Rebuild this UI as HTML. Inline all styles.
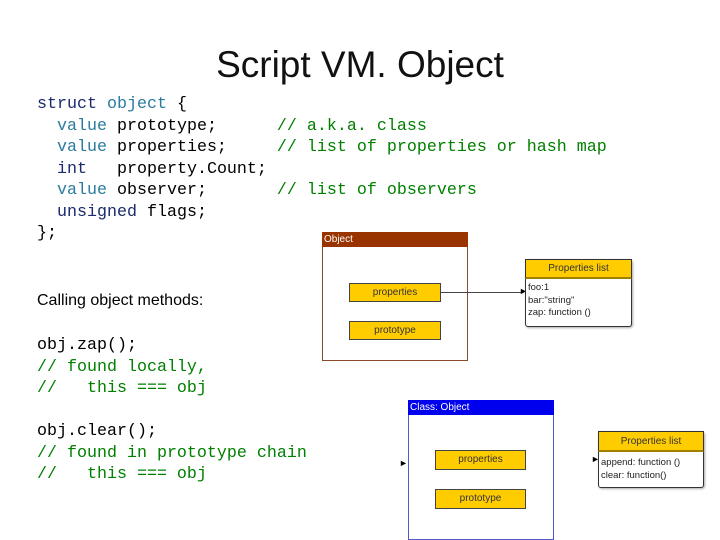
<!DOCTYPE html>
<html><head><meta charset="utf-8"><style>
body{margin:0;width:720px;height:540px;background:#fff;position:relative;overflow:hidden;font-family:"Liberation Sans",sans-serif}
.t{position:absolute;white-space:pre}
.code{font-family:"Liberation Mono",monospace;font-size:16.67px;line-height:21.5px}
.k{color:#1a2a6c}.ty{color:#2b7b9f}.c{color:#008000}
.box{position:absolute;box-sizing:border-box}
.y{background:#ffcc00;border:1px solid #444;font-size:10px;text-align:center;color:#333;box-sizing:border-box;position:absolute}
</style></head><body>
<div class="t" style="left:0;width:720px;text-align:center;top:44px;font-size:37px;color:#111">Script VM. Object</div>
<div class="t code" style="left:37px;top:94px;color:#000"><span class="k">struct</span> <span class="ty">object</span> {
  <span class="ty">value</span> prototype;      <span class="c">// a.k.a. class</span>
  <span class="ty">value</span> properties;     <span class="c">// list of properties or hash map</span>
  <span class="k">int</span>   property.Count;
  <span class="ty">value</span> observer;       <span class="c">// list of observers</span>
  <span class="k">unsigned</span> flags;
};</div>
<div class="t" style="left:37px;top:292px;font-size:16px">Calling object methods:</div>
<div class="t code" style="left:37px;top:335px;color:#000">obj.zap();
<span class="c">// found locally,
//   this === obj</span>

obj.clear();
<span class="c">// found in prototype chain
//   this === obj</span></div>

<div class="box" style="left:322px;top:232px;width:146px;height:129px;border:1px solid #8a4a2a"></div>
<div class="box" style="left:322px;top:232px;width:146px;height:15px;background:#993300;color:#fff;font-size:10px;padding-left:2px;line-height:15px">Object</div>
<div class="y" style="left:349px;top:283px;width:92px;height:19px;line-height:17px">properties</div>
<div class="y" style="left:349px;top:321px;width:92px;height:19px;line-height:17px">prototype</div>
<div class="box" style="left:441px;top:292px;width:82px;height:1px;background:#444"></div>
<div class="t" style="left:519px;top:286px;font-size:9px">&#9658;</div>
<div class="box" style="left:525px;top:259px;width:107px;height:68px;border:1px solid #333;border-radius:3px;box-shadow:1px 1px 2px #aaa;background:#fff"></div>
<div class="box" style="left:525px;top:259px;width:107px;height:20px;background:#ffcc00;border:1px solid #333;border-bottom:2px solid #a08000;font-size:10px;text-align:center;line-height:18px;color:#333">Properties list</div>
<div class="t" style="left:528px;top:282px;font-size:9.5px;line-height:12.5px;color:#222">foo:1
bar:"string"
zap: function ()</div>

<div class="box" style="left:408px;top:400px;width:146px;height:140px;border:1px solid #5555cc"></div>
<div class="box" style="left:408px;top:400px;width:146px;height:15px;background:#0000ee;color:#fff;font-size:10px;padding-left:2px;line-height:15px">Class: Object</div>
<div class="y" style="left:435px;top:450px;width:91px;height:20px;line-height:18px">properties</div>
<div class="y" style="left:435px;top:489px;width:91px;height:20px;line-height:18px">prototype</div>
<div class="t" style="left:399px;top:458px;font-size:9px">&#9658;</div>
<div class="t" style="left:591px;top:454px;font-size:9px">&#9658;</div>
<div class="box" style="left:598px;top:431px;width:106px;height:57px;border:1px solid #333;border-radius:3px;box-shadow:1px 1px 2px #aaa;background:#fff"></div>
<div class="box" style="left:598px;top:431px;width:106px;height:21px;background:#ffcc00;border:1px solid #333;border-bottom:2px solid #a08000;font-size:10px;text-align:center;line-height:19px;color:#333">Properties list</div>
<div class="t" style="left:601px;top:457px;font-size:9.5px;line-height:12.5px;color:#222">append: function ()
clear: function()</div>
</body></html>
